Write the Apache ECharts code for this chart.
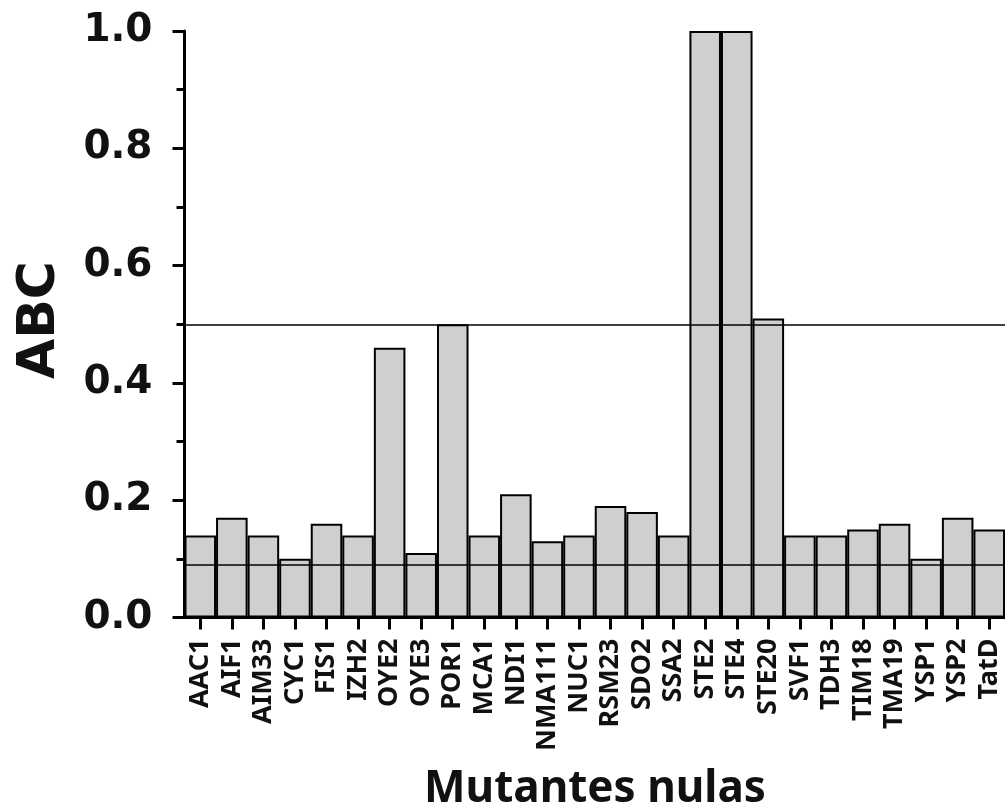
<!DOCTYPE html>
<html>
<head>
<meta charset="utf-8">
<script src="https://cdn.jsdelivr.net/npm/echarts@6/dist/echarts.min.js"></script>
<style>
  html, body { margin: 0; padding: 0; background: #ffffff; }
  #chart { width: 1005px; height: 811px; }
</style>
</head>
<body>
<div id="chart"></div>
<script>
// Null mutants and their ABC values
const mutants = ['AAC1', 'AIF1', 'AIM33', 'CYC1', 'FIS1', 'IZH2', 'OYE2', 'OYE3', 'POR1',
  'MCA1', 'NDI1', 'NMA111', 'NUC1', 'RSM23', 'SDO2', 'SSA2', 'STE2', 'STE4', 'STE20',
  'SVF1', 'TDH3', 'TIM18', 'TMA19', 'YSP1', 'YSP2', 'TatD'];
const abcValues = [0.14, 0.17, 0.14, 0.10, 0.16, 0.14, 0.46, 0.11, 0.50,
  0.14, 0.21, 0.13, 0.14, 0.19, 0.18, 0.14, 1.00, 1.00, 0.51,
  0.14, 0.14, 0.15, 0.16, 0.10, 0.17, 0.15];
// Reference thresholds drawn across the plot
const thresholds = [0.5, 0.092];
const yTicks = [0, 0.2, 0.4, 0.6, 0.8, 1.0];

const chart = echarts.init(document.getElementById('chart'), null, { renderer: 'canvas' });

chart.setOption({
  animation: false,
  backgroundColor: '#ffffff',
  grid: { left: 184.5, top: 31, bottom: 193.5, right: -6.5, containLabel: false },
  xAxis: {
    type: 'category',
    data: mutants,
    axisLine: { show: true, lineStyle: { color: '#000', width: 3 } },
    axisTick: { show: true, alignWithLabel: true, length: 12, lineStyle: { color: '#000', width: 3 } },
    axisLabel: {
      interval: 0, rotate: 90, margin: 21,
      fontFamily: '"Noto Sans", sans-serif', fontWeight: 'bold', fontSize: 27, color: '#111'
    }
  },
  yAxis: {
    type: 'value',
    min: yTicks[0], max: yTicks[yTicks.length - 1], interval: 0.2,
    axisLine: { show: true, lineStyle: { color: '#000', width: 3 } },
    axisTick: { show: true, inside: false, length: 12, lineStyle: { color: '#000', width: 3 } },
    minorTick: { show: true, splitNumber: 2, length: 8, lineStyle: { color: '#000', width: 3 } },
    splitLine: { show: false },
    axisLabel: {
      margin: 32,
      fontFamily: '"DejaVu Sans", sans-serif', fontWeight: 'bold', fontSize: 39, color: '#111',
      formatter: v => v.toFixed(1)
    }
  },
  series: [{
    type: 'bar',
    data: abcValues,
    barCategoryGap: '0%',
    itemStyle: { color: '#cfcfcf', borderColor: '#000', borderWidth: 2 },
    markLine: {
      silent: true,
      symbol: ['none', 'none'],
      label: { show: false },
      lineStyle: { color: '#000', width: 1.6, type: 'solid' },
      z: 10,
      data: thresholds.map(t => ({ yAxis: t }))
    }
  }],
  graphic: [
    {
      type: 'text', x: 40, y: 320, rotation: Math.PI / 2,
      style: {
        text: 'ABC', fill: '#111',
        font: 'bold 52px "DejaVu Sans", sans-serif',
        align: 'center', verticalAlign: 'middle'
      }
    },
    {
      type: 'text', x: 595, y: 789,
      style: {
        text: 'Mutantes nulas', fill: '#111',
        font: 'bold 44px "Noto Sans", sans-serif',
        align: 'center', verticalAlign: 'middle'
      }
    }
  ]
});
</script>
</body>
</html>
